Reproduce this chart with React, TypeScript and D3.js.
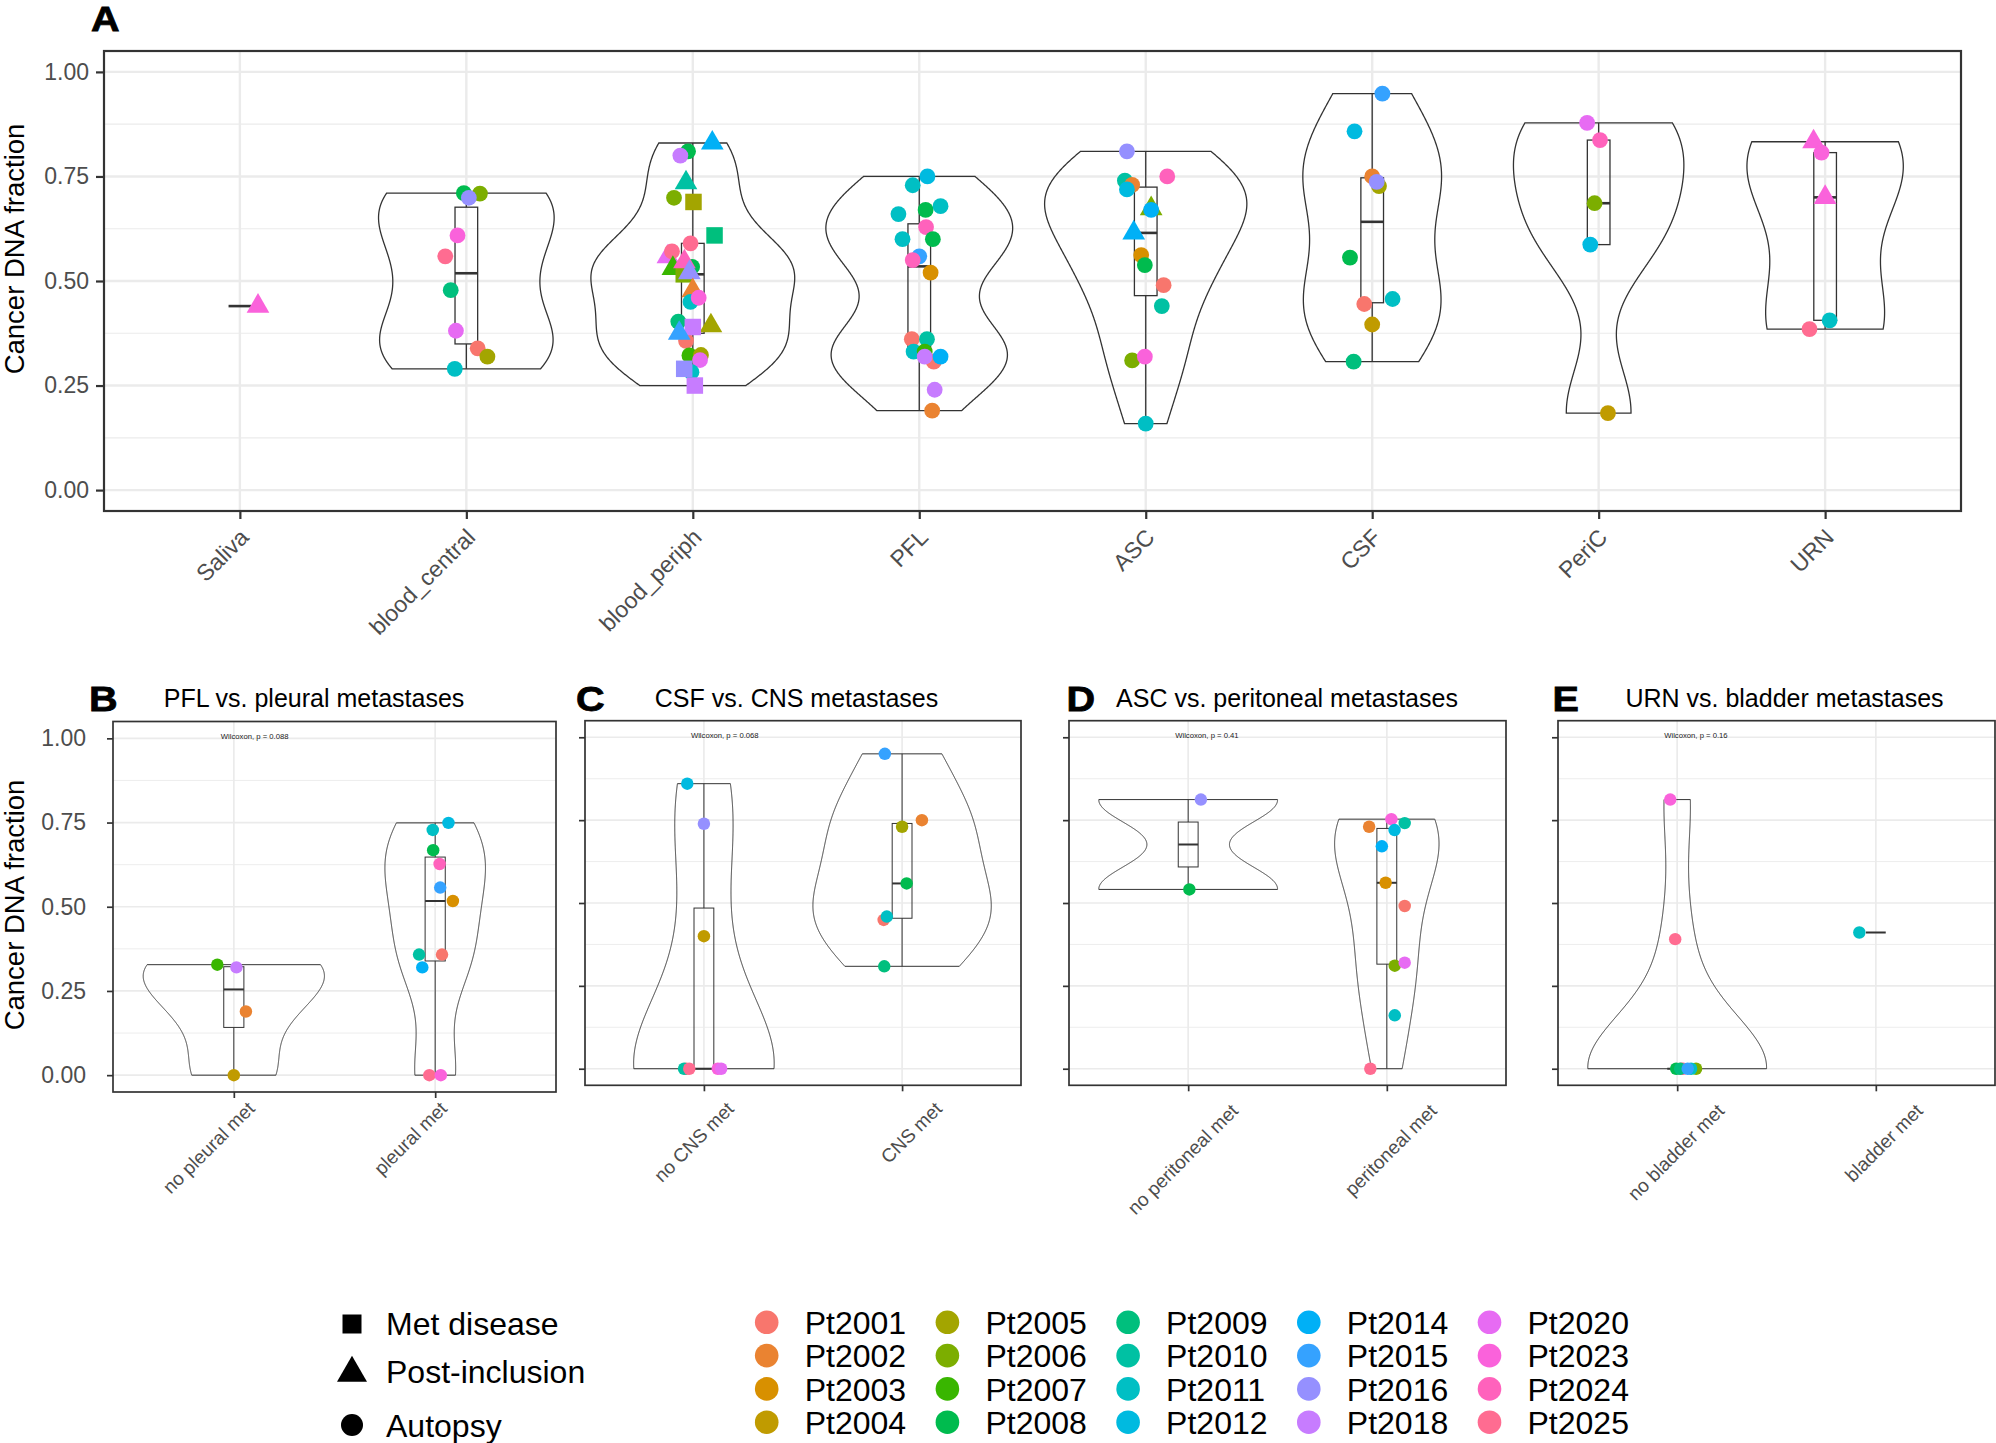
import React, {useEffect, useRef} from 'react';
import * as d3 from 'd3';

// sample type shape: S = Met disease, T = Post-inclusion, C = Autopsy
type Shape = 'S' | 'T' | 'C';
// [cancer DNA fraction, patient, sample type, horizontal jitter in category units]
type Pt = [number, string, Shape, number];

const PATIENTS = ['Pt2001', 'Pt2002', 'Pt2003', 'Pt2004', 'Pt2005', 'Pt2006', 'Pt2007', 'Pt2008', 'Pt2009', 'Pt2010',
    'Pt2011', 'Pt2012', 'Pt2014', 'Pt2015', 'Pt2016', 'Pt2018', 'Pt2020', 'Pt2023', 'Pt2024', 'Pt2025'];
const PATIENT_COLORS = ['#F8766D', '#EA8331', '#D89000', '#C09B00', '#A3A500', '#7CAE00', '#39B600', '#00BB4E', '#00BF7D', '#00C1A3',
    '#00BFC4', '#00BAE0', '#00B0F6', '#35A2FF', '#9590FF', '#C77CFF', '#E76BF3', '#FA62DB', '#FF62BC', '#FF6C91'];
const SAMPLE_TYPES = ['Met disease', 'Post-inclusion', 'Autopsy'];
const SAMPLE_SHAPES: Shape[] = ['S', 'T', 'C'];

const Y_BREAKS = [0, 0.25, 0.5, 0.75, 1];
const Y_MINOR = [0.125, 0.375, 0.625, 0.875];

// ---- panel A
const A_CATEGORIES = ['Saliva', 'blood_central', 'blood_periph', 'PFL', 'ASC', 'CSF', 'PeriC', 'URN'];
const salivaPts: Pt[] = [[0.44, 'Pt2023', 'T', 0.08]];
const bloodCentralPts: Pt[] = [
    [0.71, 'Pt2008', 'C', -0.011], [0.709, 'Pt2006', 'C', 0.06], [0.699, 'Pt2016', 'C', 0.011],
    [0.609, 'Pt2023', 'C', -0.039], [0.559, 'Pt2025', 'C', -0.093], [0.478, 'Pt2009', 'C', -0.069],
    [0.381, 'Pt2020', 'C', -0.046], [0.339, 'Pt2001', 'C', 0.05], [0.319, 'Pt2005', 'C', 0.093],
    [0.29, 'Pt2011', 'C', -0.051]];
const bloodPeriphPts: Pt[] = [
    [0.83, 'Pt2014', 'T', 0.086], [0.81, 'Pt2008', 'C', -0.021], [0.80, 'Pt2018', 'C', -0.055],
    [0.735, 'Pt2010', 'T', -0.03], [0.699, 'Pt2006', 'C', -0.083], [0.689, 'Pt2005', 'S', 0.003],
    [0.609, 'Pt2009', 'S', 0.096], [0.59, 'Pt2025', 'C', -0.01], [0.558, 'Pt2020', 'T', -0.11],
    [0.571, 'Pt2025', 'C', -0.092], [0.53, 'Pt2007', 'T', -0.088], [0.534, 'Pt2008', 'C', -0.003],
    [0.516, 'Pt2006', 'S', -0.04], [0.546, 'Pt2024', 'T', -0.037], [0.52, 'Pt2016', 'T', -0.015],
    [0.477, 'Pt2002', 'T', 0.0], [0.45, 'Pt2011', 'C', -0.01], [0.46, 'Pt2023', 'C', 0.026],
    [0.403, 'Pt2009', 'C', -0.064], [0.393, 'Pt2005', 'T', 0.08], [0.357, 'Pt2001', 'C', -0.03],
    [0.39, 'Pt2018', 'S', 0.0], [0.375, 'Pt2015', 'T', -0.06], [0.322, 'Pt2007', 'C', -0.015],
    [0.323, 'Pt2005', 'C', 0.036], [0.311, 'Pt2020', 'C', 0.032], [0.282, 'Pt2011', 'C', -0.006],
    [0.29, 'Pt2016', 'S', -0.038], [0.25, 'Pt2018', 'S', 0.009]];
const pflPts: Pt[] = [
    [0.75, 'Pt2012', 'C', 0.036], [0.729, 'Pt2011', 'C', -0.029], [0.66, 'Pt2011', 'C', -0.092],
    [0.67, 'Pt2008', 'C', 0.028], [0.679, 'Pt2011', 'C', 0.094], [0.629, 'Pt2024', 'C', 0.03],
    [0.60, 'Pt2008', 'C', 0.06], [0.60, 'Pt2011', 'C', -0.074], [0.559, 'Pt2015', 'C', 0.0],
    [0.55, 'Pt2024', 'C', -0.029], [0.52, 'Pt2003', 'C', 0.05], [0.361, 'Pt2001', 'C', -0.033],
    [0.361, 'Pt2010', 'C', 0.034], [0.331, 'Pt2011', 'C', -0.025], [0.331, 'Pt2007', 'C', 0.024],
    [0.307, 'Pt2001', 'C', 0.064], [0.319, 'Pt2018', 'C', 0.024], [0.319, 'Pt2014', 'C', 0.094],
    [0.24, 'Pt2018', 'C', 0.068], [0.19, 'Pt2002', 'C', 0.057]];
const ascPts: Pt[] = [
    [0.81, 'Pt2016', 'C', -0.083], [0.75, 'Pt2024', 'C', 0.095], [0.74, 'Pt2010', 'C', -0.092],
    [0.73, 'Pt2002', 'C', -0.06], [0.719, 'Pt2012', 'C', -0.083], [0.673, 'Pt2006', 'T', 0.024],
    [0.67, 'Pt2014', 'C', 0.024], [0.615, 'Pt2014', 'T', -0.053], [0.562, 'Pt2003', 'C', -0.02],
    [0.538, 'Pt2008', 'C', -0.004], [0.49, 'Pt2001', 'C', 0.079], [0.44, 'Pt2010', 'C', 0.071],
    [0.31, 'Pt2006', 'C', -0.06], [0.319, 'Pt2023', 'C', -0.004], [0.159, 'Pt2011', 'C', 0.0]];
const csfPts: Pt[] = [
    [0.948, 'Pt2015', 'C', 0.045], [0.858, 'Pt2012', 'C', -0.078], [0.75, 'Pt2002', 'C', 0.0],
    [0.727, 'Pt2005', 'C', 0.03], [0.737, 'Pt2016', 'C', 0.02], [0.556, 'Pt2008', 'C', -0.098],
    [0.445, 'Pt2001', 'C', -0.035], [0.457, 'Pt2011', 'C', 0.09], [0.396, 'Pt2004', 'C', 0.0],
    [0.307, 'Pt2009', 'C', -0.082]];
const pericPts: Pt[] = [
    [0.878, 'Pt2020', 'C', -0.051], [0.837, 'Pt2024', 'C', 0.006], [0.686, 'Pt2006', 'C', -0.018],
    [0.587, 'Pt2012', 'C', -0.037], [0.184, 'Pt2004', 'C', 0.041]];
const urnPts: Pt[] = [
    [0.833, 'Pt2023', 'T', -0.051], [0.807, 'Pt2023', 'C', -0.016], [0.70, 'Pt2023', 'T', 0.0],
    [0.406, 'Pt2011', 'C', 0.02], [0.385, 'Pt2025', 'C', -0.069]];

// ---- panel B
const B_CATEGORIES = ['no pleural met', 'pleural met'];
const noPleuralPts: Pt[] = [
    [0.328, 'Pt2007', 'C', -0.082], [0.32, 'Pt2018', 'C', 0.013], [0.189, 'Pt2002', 'C', 0.06], [0.0, 'Pt2004', 'C', 0.0]];
const pleuralPts: Pt[] = [
    [0.749, 'Pt2012', 'C', 0.066], [0.728, 'Pt2011', 'C', -0.012], [0.668, 'Pt2008', 'C', -0.01],
    [0.627, 'Pt2024', 'C', 0.022], [0.557, 'Pt2015', 'C', 0.025], [0.517, 'Pt2003', 'C', 0.088],
    [0.358, 'Pt2010', 'C', -0.08], [0.358, 'Pt2001', 'C', 0.034], [0.32, 'Pt2014', 'C', -0.064],
    [0.0, 'Pt2025', 'C', -0.029], [0.0, 'Pt2023', 'C', 0.028]];

// ---- panel C
const C_CATEGORIES = ['no CNS met', 'CNS met'];
const noCnsPts: Pt[] = [
    [0.86, 'Pt2012', 'C', -0.084], [0.739, 'Pt2016', 'C', 0.0], [0.40, 'Pt2004', 'C', 0.0],
    [0.0, 'Pt2001', 'C', -0.09], [0.0, 'Pt2010', 'C', -0.1], [0.0, 'Pt2025', 'C', -0.074],
    [0.0, 'Pt2023', 'C', 0.07], [0.0, 'Pt2020', 'C', 0.087]];
const cnsPts: Pt[] = [
    [0.95, 'Pt2015', 'C', -0.087], [0.75, 'Pt2002', 'C', 0.1], [0.73, 'Pt2005', 'C', 0.0],
    [0.559, 'Pt2008', 'C', 0.023], [0.449, 'Pt2001', 'C', -0.093], [0.459, 'Pt2011', 'C', -0.077],
    [0.309, 'Pt2009', 'C', -0.09]];

// ---- panel D
const D_CATEGORIES = ['no peritoneal met', 'peritoneal met'];
const noPeritonealPts: Pt[] = [[0.812, 'Pt2016', 'C', 0.064], [0.541, 'Pt2008', 'C', 0.006]];
const peritonealPts: Pt[] = [
    [0.753, 'Pt2023', 'C', 0.023], [0.73, 'Pt2002', 'C', -0.089], [0.741, 'Pt2010', 'C', 0.09],
    [0.72, 'Pt2012', 'C', 0.039], [0.671, 'Pt2014', 'C', -0.025], [0.561, 'Pt2003', 'C', -0.006],
    [0.491, 'Pt2001', 'C', 0.09], [0.311, 'Pt2006', 'C', 0.04], [0.32, 'Pt2020', 'C', 0.09],
    [0.161, 'Pt2011', 'C', 0.04], [0.0, 'Pt2025', 'C', -0.083]];

// ---- panel E
const E_CATEGORIES = ['no bladder met', 'bladder met'];
const noBladderPts: Pt[] = [
    [0.812, 'Pt2023', 'C', -0.035], [0.391, 'Pt2025', 'C', -0.01], [0.0, 'Pt2001', 'C', 0.02],
    [0.0, 'Pt2025', 'C', 0.03], [0.0, 'Pt2006', 'C', 0.095], [0.0, 'Pt2008', 'C', -0.005],
    [0.0, 'Pt2009', 'C', 0.015], [0.0, 'Pt2011', 'C', 0.07], [0.0, 'Pt2015', 'C', 0.053]];
const bladderPts: Pt[] = [[0.411, 'Pt2011', 'C', -0.083]];

const P_VALUES = ['Wilcoxon, p = 0.088', 'Wilcoxon, p = 0.068', 'Wilcoxon, p = 0.41', 'Wilcoxon, p = 0.16'];
const SUB_TITLES = ['PFL vs. pleural metastases', 'CSF vs. CNS metastases', 'ASC vs. peritoneal metastases', 'URN vs. bladder metastases'];

const WIDTH = 1996;
const HEIGHT = 1443;
const FONT = '"Liberation Sans", Arial, Helvetica, sans-serif';
const INK = '#333333';
const TICK_TEXT = '#4D4D4D';
const GRID = '#EBEBEB';

const colorOf = d3.scaleOrdinal<string, string>().domain(PATIENTS).range(PATIENT_COLORS);

interface PanelSpec {
    left: number; right: number; top: number; bottom: number;
    categories: string[];
    groups: Pt[][];
    pointScale: number;
    lineW: number; medianW: number; borderW: number; majorW: number; minorW: number;
    yLabels: boolean; tickLen: number; tickPad: number; tickSize: number;
    xLabelSize: number; xLabelDx: number[]; xLabelDy: number;
    pText?: string;
}

const thin = {pointScale: 0.79, lineW: 1.0, medianW: 2.0, borderW: 1.7, majorW: 1.7, minorW: 0.9, tickLen: 6, xLabelSize: 19};

const PANELS: PanelSpec[] = [
    {
        left: 104, right: 1961, top: 51, bottom: 511, categories: A_CATEGORIES,
        groups: [salivaPts, bloodCentralPts, bloodPeriphPts, pflPts, ascPts, csfPts, pericPts, urnPts],
        pointScale: 1, lineW: 1.3, medianW: 2.6, borderW: 2.2, majorW: 2.4, minorW: 1.2,
        yLabels: true, tickLen: 8, tickPad: 7, tickSize: 23, xLabelSize: 23,
        xLabelDx: [-2, -2, -2, -2, -2, -2, -2, -2], xLabelDy: 16
    },
    {
        ...thin, left: 113, right: 556, top: 721.5, bottom: 1092, categories: B_CATEGORIES,
        groups: [noPleuralPts, pleuralPts], yLabels: true, tickPad: 21, tickSize: 23,
        xLabelDx: [12, 3], xLabelDy: 8, pText: P_VALUES[0]
    },
    {
        ...thin, left: 585, right: 1021, top: 720.7, bottom: 1085.3, categories: C_CATEGORIES,
        groups: [noCnsPts, cnsPts], yLabels: false, tickPad: 4, tickSize: 23,
        xLabelDx: [21, 31], xLabelDy: 15, pText: P_VALUES[1]
    },
    {
        ...thin, left: 1069, right: 1506, top: 720.7, bottom: 1085.3, categories: D_CATEGORIES,
        groups: [noPeritonealPts, peritonealPts], yLabels: false, tickPad: 4, tickSize: 23,
        xLabelDx: [41, 41], xLabelDy: 17, pText: P_VALUES[2]
    },
    {
        ...thin, left: 1558, right: 1995, top: 720.7, bottom: 1085.3, categories: E_CATEGORIES,
        groups: [noBladderPts, bladderPts], yLabels: false, tickPad: 4, tickSize: 23,
        xLabelDx: [38, 38], xLabelDy: 17, pText: P_VALUES[3]
    }
];

// R's bw.nrd0
function bwNrd0(x: number[]): number {
    const s = [...x].sort(d3.ascending);
    const hi = d3.deviation(s) ?? 0;
    const iqr = (d3.quantileSorted(s, 0.75) as number) - (d3.quantileSorted(s, 0.25) as number);
    let lo = Math.min(hi, iqr / 1.34);
    if (!lo) lo = hi || Math.abs(s[0]) || 1;
    return 0.9 * lo * Math.pow(s.length, -0.2);
}

// gaussian kernel density, trimmed to the data range (ggplot stat_ydensity, trim = TRUE)
function kde(x: number[], n = 512): [number, number][] {
    const bw = bwNrd0(x);
    const [lo, hi] = d3.extent(x) as [number, number];
    const k = 1 / (bw * Math.sqrt(2 * Math.PI));
    return d3.range(n).map(i => {
        const t = lo + (hi - lo) * i / (n - 1);
        return [t, (d3.mean(x, v => Math.exp(-0.5 * ((t - v) / bw) ** 2)) as number) * k];
    });
}

function boxStats(x: number[]) {
    const s = [...x].sort(d3.ascending);
    const q1 = d3.quantileSorted(s, 0.25) as number;
    const med = d3.quantileSorted(s, 0.5) as number;
    const q3 = d3.quantileSorted(s, 0.75) as number;
    const iqr = q3 - q1;
    const lo = d3.min(s.filter(v => v >= q1 - 1.5 * iqr)) as number;
    const hi = d3.max(s.filter(v => v <= q3 + 1.5 * iqr)) as number;
    return {q1, med, q3, lo, hi};
}

const SYMBOL_SIZE: Record<Shape, number> = {C: Math.PI * 7.9 * 7.9, T: 223, S: 16.5 * 16.5};
const symbolType = (s: Shape) => s === 'C' ? d3.symbolCircle : s === 'T' ? d3.symbolTriangle : d3.symbolSquare;
const symbolPath = (s: Shape, k: number) => d3.symbol().type(symbolType(s)).size(SYMBOL_SIZE[s] * k * k)() as string;

function drawPanel(svg: d3.Selection<SVGSVGElement, unknown, null, undefined>, p: PanelSpec) {
    const x = d3.scaleLinear().domain([-0.6, p.categories.length - 0.4]).range([p.left, p.right]);
    const y = d3.scaleLinear().domain([-0.05, 1.05]).range([p.bottom, p.top]);
    const unit = x(1) - x(0);
    const idx = d3.range(p.categories.length);
    const g = svg.append('g');

    g.append('rect')
        .attr('x', p.left).attr('y', p.top)
        .attr('width', p.right - p.left).attr('height', p.bottom - p.top)
        .attr('fill', '#fff');

    // gridlines
    g.append('g').selectAll('line').data(Y_MINOR).join('line')
        .attr('x1', p.left).attr('x2', p.right)
        .attr('y1', d => y(d)).attr('y2', d => y(d))
        .attr('stroke', GRID).attr('stroke-width', p.minorW);
    g.append('g').selectAll('line').data(Y_BREAKS).join('line')
        .attr('x1', p.left).attr('x2', p.right)
        .attr('y1', d => y(d)).attr('y2', d => y(d))
        .attr('stroke', GRID).attr('stroke-width', p.majorW);
    g.append('g').selectAll('line').data(idx).join('line')
        .attr('x1', d => x(d)).attr('x2', d => x(d))
        .attr('y1', p.top).attr('y2', p.bottom)
        .attr('stroke', GRID).attr('stroke-width', p.majorW);

    // violins, scale = "area"
    const dens = p.groups.map(grp => grp.length > 1 ? kde(grp.map(d => d[0])) : null);
    const maxD = d3.max(dens, d => d ? d3.max(d, e => e[1]) : 0) as number;
    dens.forEach((d, i) => {
        if (!d) return;
        const half = (v: number) => v / maxD * 0.45 * unit;
        const area = d3.area<[number, number]>()
            .y(e => y(e[0]))
            .x0(e => x(i) - half(e[1]))
            .x1(e => x(i) + half(e[1]));
        g.append('path').attr('d', area(d))
            .attr('fill', 'none').attr('stroke', INK).attr('stroke-width', p.lineW);
    });

    // boxplots
    p.groups.forEach((grp, i) => {
        const s = boxStats(grp.map(d => d[0]));
        const cx = x(i);
        const bw = 0.1 * unit;
        const bx = g.append('g').attr('stroke', INK).attr('fill', 'none');
        bx.append('line').attr('x1', cx).attr('x2', cx).attr('y1', y(s.q3)).attr('y2', y(s.hi)).attr('stroke-width', p.lineW);
        bx.append('line').attr('x1', cx).attr('x2', cx).attr('y1', y(s.q1)).attr('y2', y(s.lo)).attr('stroke-width', p.lineW);
        if (s.q3 > s.q1) {
            bx.append('rect').attr('x', cx - bw / 2).attr('width', bw)
                .attr('y', y(s.q3)).attr('height', y(s.q1) - y(s.q3))
                .attr('stroke-width', p.lineW);
        }
        bx.append('line').attr('x1', cx - bw / 2).attr('x2', cx + bw / 2)
            .attr('y1', y(s.med)).attr('y2', y(s.med)).attr('stroke-width', p.medianW);
    });

    // jittered points
    p.groups.forEach((grp, i) => {
        g.append('g').selectAll('path').data(grp).join('path')
            .attr('transform', d => `translate(${x(i + d[3])},${y(d[0])})`)
            .attr('d', d => symbolPath(d[2], p.pointScale))
            .attr('fill', d => colorOf(d[1]));
    });

    g.append('rect')
        .attr('x', p.left).attr('y', p.top)
        .attr('width', p.right - p.left).attr('height', p.bottom - p.top)
        .attr('fill', 'none').attr('stroke', INK).attr('stroke-width', p.borderW);

    // y axis
    const ya = g.append('g').attr('transform', `translate(${p.left},0)`)
        .call(d3.axisLeft(y).tickValues(Y_BREAKS).tickSize(p.tickLen).tickPadding(p.tickPad)
            .tickFormat(d => p.yLabels ? d3.format('.2f')(d as number) : ''));
    ya.attr('font-family', FONT).attr('font-size', p.tickSize);
    ya.select('.domain').remove();
    ya.selectAll('line').attr('stroke', INK).attr('stroke-width', p.borderW);
    ya.selectAll('text').attr('fill', TICK_TEXT);

    // x axis with 45 degree labels
    const xa = g.append('g').attr('transform', `translate(0,${p.bottom})`)
        .call(d3.axisBottom(x).tickValues(idx).tickSize(p.tickLen)
            .tickFormat(d => p.categories[d as number]));
    xa.attr('font-family', FONT).attr('font-size', p.xLabelSize);
    xa.select('.domain').remove();
    xa.selectAll('line').attr('stroke', INK).attr('stroke-width', p.borderW);
    xa.selectAll<SVGTextElement, number>('text')
        .attr('fill', TICK_TEXT)
        .attr('y', 0).attr('dy', '0.72em')
        .attr('text-anchor', 'end')
        .attr('transform', d => `translate(${p.xLabelDx[d]},${p.xLabelDy}) rotate(-45)`);

    if (p.pText) {
        g.append('text')
            .attr('x', x(0) - 13).attr('y', y(1) + 0.5)
            .attr('font-family', FONT).attr('font-size', 7.7).attr('fill', '#222')
            .text(p.pText);
    }
}

function drawLabels(svg: d3.Selection<SVGSVGElement, unknown, null, undefined>) {
    const t = svg.append('g').attr('font-family', FONT);
    const letters: [string, number, number][] = [['A', 91, 31], ['B', 89, 710.5], ['C', 576, 710.5], ['D', 1066.5, 710.5], ['E', 1552.5, 710.5]];
    t.selectAll('text.letter').data(letters).join('text')
        .attr('class', 'letter')
        .attr('transform', d => `translate(${d[1]},${d[2]}) scale(1.1,1)`)
        .attr('font-size', 36).attr('font-weight', 'bold').attr('fill', '#000')
        .attr('stroke', '#000').attr('stroke-width', 0.8)
        .text(d => d[0]);

    const titleX = [314, 796.5, 1287, 1784.5];
    t.selectAll('text.sub').data(SUB_TITLES).join('text')
        .attr('class', 'sub')
        .attr('x', (d, i) => titleX[i]).attr('y', 707)
        .attr('text-anchor', 'middle').attr('font-size', 25).attr('fill', '#000')
        .text(d => d);

    [249, 905].forEach(cy => {
        t.append('text')
            .attr('transform', `translate(23.5,${cy}) rotate(-90)`)
            .attr('text-anchor', 'middle').attr('font-size', 27.5).attr('fill', '#000')
            .text('Cancer DNA fraction');
    });
}

function drawLegend(svg: d3.Selection<SVGSVGElement, unknown, null, undefined>) {
    const lg = svg.append('g').attr('font-family', FONT).attr('font-size', 32).attr('fill', '#000');
    const keyY = [1324, 1373, 1425];
    const textY = [1335, 1383, 1437];
    const keySize: Record<Shape, number> = {S: 19 * 19, T: 390, C: Math.PI * 11 * 11};
    SAMPLE_TYPES.forEach((label, i) => {
        const s = SAMPLE_SHAPES[i];
        lg.append('path')
            .attr('transform', `translate(352,${keyY[i]})`)
            .attr('d', d3.symbol().type(symbolType(s)).size(keySize[s])() as string);
        lg.append('text').attr('x', 386).attr('y', textY[i]).text(label);
    });

    PATIENTS.forEach((pt, i) => {
        const cx = 766.7 + Math.floor(i / 4) * 180.7;
        const cy = 1322.3 + (i % 4) * 33.3;
        lg.append('circle').attr('cx', cx).attr('cy', cy).attr('r', 11.8).attr('fill', colorOf(pt));
        lg.append('text').attr('x', cx + 38).attr('y', cy + 11.8).text(pt);
    });
}

export default function App() {
    const svgRef = useRef<SVGSVGElement>(null);

    useEffect(() => {
        const svg = d3.select(svgRef.current as SVGSVGElement);
        svg.selectAll('*').remove();
        PANELS.forEach(p => drawPanel(svg, p));
        drawLabels(svg);
        drawLegend(svg);
    }, []);

    return (
        <div style={{position: 'absolute', left: 0, top: 0}}>
            <svg ref={svgRef} width={WIDTH} height={HEIGHT} style={{display: 'block', background: '#fff'}}/>
        </div>
    );
}
